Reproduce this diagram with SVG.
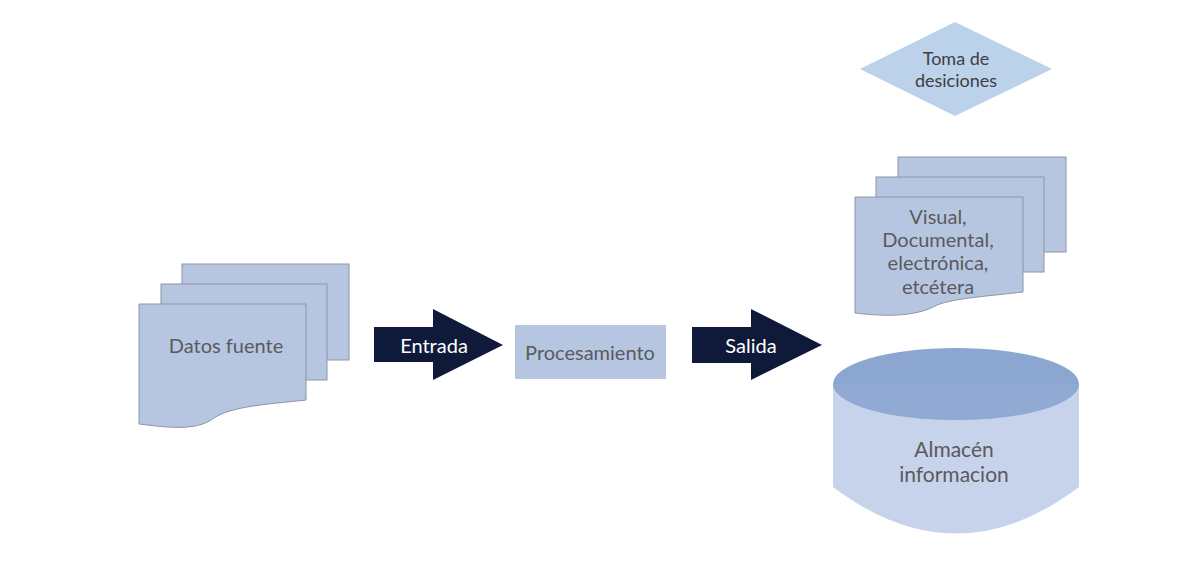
<svg xmlns="http://www.w3.org/2000/svg" width="1200" height="564" viewBox="0 0 1200 564">
<style>
.page{fill:#b6c6e1;stroke:#8e94a6;stroke-width:1}
.lbl{font-family:Lato,"Open Sans","Liberation Sans",sans-serif;font-size:20px;fill:#5a5a5e;text-anchor:middle;dominant-baseline:central}
.wlbl{font-family:Lato,"Open Sans","Liberation Sans",sans-serif;font-size:20px;fill:#ffffff;text-anchor:middle;dominant-baseline:central}
.arrow{fill:#0f1a3b}
</style>
<rect width="1200" height="564" fill="#ffffff"/>
<g id="datos-fuente">
<rect class="page" x="182" y="264" width="167" height="96"/>
<rect class="page" x="161" y="284" width="166" height="96"/>
<path class="page" d="M139,304 H306 V400 C270,404 232,406 214,418 C196,432 165,427 139,424 Z"/>
<text class="lbl" x="226" y="345">Datos fuente</text>
</g>
<g id="connectors">
<g id="entrada">
<path class="arrow" d="M374,327 H433 V309 L503,345 L433,380 V362 H374 Z"/>
<text class="wlbl" x="434" y="345">Entrada</text>
</g>
<g id="salida">
<path class="arrow" d="M692,327 H751 V309 L822,345 L751,380 V363 H692 Z"/>
<text class="wlbl" x="751" y="345">Salida</text>
</g>
</g>
<g id="procesamiento">
<rect x="515" y="325" width="151" height="54" fill="#b6c6e1"/>
<text class="lbl" x="590" y="352">Procesamiento</text>
</g>
<g id="toma-decisiones">
<polygon points="955,22 1052,69 955,116 860,69" fill="#bcd2ea"/>
<text class="lbl" x="956" y="58" style="font-size:18px;fill:#3e3e44">Toma de</text>
<text class="lbl" x="956" y="80" style="font-size:18px;fill:#3e3e44">desiciones</text>
</g>
<g id="salidas">
<rect class="page" x="898" y="157" width="168" height="95"/>
<rect class="page" x="876" y="177" width="168" height="95"/>
<path class="page" d="M855,197 H1023 V292 C990,296 955,298 937,305 C915,318 880,316 855,313 Z"/>
<text class="lbl" x="938" y="216">Visual,</text>
<text class="lbl" x="938" y="239">Documental,</text>
<text class="lbl" x="938" y="262">electrónica,</text>
<text class="lbl" x="938" y="286">etcétera</text>
</g>
<g id="almacen">
<path d="M833,384 V487 Q956,580 1079,487 V384 Z" fill="#c6d3ea"/>
<ellipse cx="956" cy="384" rx="123" ry="36" fill="#8ba6d0"/>
<path d="M833,384 H1079 A123,36 0 0 1 833,384 Z" fill="#95aed6" opacity="0.6"/>
<text class="lbl" x="954" y="448" style="font-size:21px">Almacén</text>
<text class="lbl" x="954" y="473" style="font-size:21px">informacion</text>
</g>
</svg>
